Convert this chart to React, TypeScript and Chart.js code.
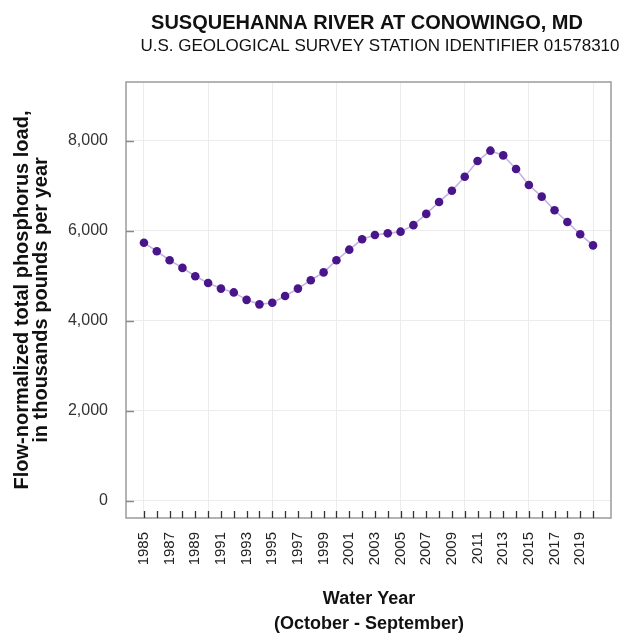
import React, { useEffect, useRef } from "react";
import { Chart, registerables } from "chart.js";

Chart.register(...registerables);

const years = [
  1985, 1986, 1987, 1988, 1989, 1990, 1991, 1992, 1993, 1994, 1995, 1996,
  1997, 1998, 1999, 2000, 2001, 2002, 2003, 2004, 2005, 2006, 2007, 2008,
  2009, 2010, 2011, 2012, 2013, 2014, 2015, 2016, 2017, 2018, 2019, 2020,
];
const loads = [
  5740, 5550, 5350, 5180, 4995, 4845, 4720, 4635, 4470, 4370, 4405, 4555,
  4720, 4905, 5080, 5350, 5585, 5815, 5910, 5948, 5985, 6130, 6380, 6645,
  6895, 7205, 7555, 7785, 7680, 7378, 7022, 6763, 6460, 6200, 5926, 5681,
];
const yTickValues = [0, 2000, 4000, 6000, 8000];
const xLabelYears = [
  1985, 1987, 1989, 1991, 1993, 1995, 1997, 1999, 2001, 2003, 2005, 2007,
  2009, 2011, 2013, 2015, 2017, 2019,
];
const xGridYears = [1985, 1990, 1995, 2000, 2005, 2010, 2015, 2020];

const TITLE = "SUSQUEHANNA RIVER AT CONOWINGO, MD";
const SUBTITLE = "U.S. GEOLOGICAL SURVEY STATION IDENTIFIER 01578310";
const Y_TITLE = ["Flow-normalized total phosphorus load,", "in thousands pounds per year"];
const X_TITLE = ["Water Year", "(October - September)"];

const FONT = "'Liberation Sans', Arial, sans-serif";

const decorPlugin = {
  id: "decor",
  beforeDatasetsDraw(chart: any) {
    const { ctx, chartArea: a, scales } = chart;
    ctx.save();
    ctx.strokeStyle = "#9a9a9a";
    ctx.lineWidth = 1.5;
    ctx.strokeRect(a.left, a.top, a.right - a.left, a.bottom - a.top);
    ctx.strokeStyle = "#333";
    ctx.lineWidth = 1.3;
    years.forEach((yr) => {
      const x = Math.round(scales.x.getPixelForValue(yr)) + 0.5;
      ctx.beginPath();
      ctx.moveTo(x, a.bottom);
      ctx.lineTo(x, a.bottom - 7);
      ctx.stroke();
    });
    ctx.strokeStyle = "#8a8a8a";
    ctx.lineWidth = 1.5;
    yTickValues.forEach((v) => {
      const y = Math.round(scales.y.getPixelForValue(v)) + 0.5;
      ctx.beginPath();
      ctx.moveTo(a.left, y);
      ctx.lineTo(a.left + 8, y);
      ctx.stroke();
    });
    ctx.restore();
  },
  afterDraw(chart: any) {
    const { ctx } = chart;
    ctx.save();
    ctx.fillStyle = "#111";
    ctx.textAlign = "center";
    ctx.textBaseline = "middle";
    ctx.font = `bold 20px ${FONT}`;
    ctx.fillText(TITLE, 359, 15);
    ctx.font = `17px ${FONT}`;
    ctx.fillText(SUBTITLE, 372, 38);
    ctx.font = `bold 18px ${FONT}`;
    ctx.fillText(X_TITLE[0], 361, 591);
    ctx.fillText(X_TITLE[1], 361, 616);
    ctx.font = `bold 20px ${FONT}`;
    ctx.save();
    ctx.translate(14, 292);
    ctx.rotate(-Math.PI / 2);
    ctx.fillText(Y_TITLE[0], 0, 0);
    ctx.restore();
    ctx.save();
    ctx.translate(33, 292);
    ctx.rotate(-Math.PI / 2);
    ctx.fillText(Y_TITLE[1], 0, 0);
    ctx.restore();
    ctx.restore();
  },
};

export default function App() {
  const ref = useRef<HTMLCanvasElement | null>(null);
  useEffect(() => {
    document.body.style.overflow = "hidden";
    document.documentElement.style.overflow = "hidden";
    if (!ref.current) return;
    const chart = new Chart(ref.current, {
      type: "line",
      data: {
        datasets: [
          {
            data: years.map((yr, i) => ({ x: yr, y: loads[i] })),
            borderColor: "#c7b2e0",
            borderWidth: 1.6,
            pointBackgroundColor: "#48168a",
            pointBorderColor: "#48168a",
            pointRadius: 4.3,
            pointBorderWidth: 0,
            tension: 0,
          },
        ],
      },
      options: {
        animation: false,
        responsive: false,
        maintainAspectRatio: false,
        devicePixelRatio: 1,
        layout: { padding: { top: 74, right: 15, left: 0, bottom: 0 } },
        plugins: {
          legend: { display: false },
          title: { display: false },
          tooltip: { enabled: false },
        },
        scales: {
          x: {
            type: "linear",
            min: 1983.6,
            max: 2021.4,
            afterBuildTicks: (scale: any) => {
              scale.ticks = years.map((v) => ({ value: v }));
            },
            afterFit: (scale: any) => {
              scale.height = 117;
              scale.paddingLeft = 0;
              scale.paddingRight = 0;
            },
            border: { display: false },
            grid: {
              drawTicks: false,
              color: (c: any) =>
                c.tick && xGridYears.includes(c.tick.value) ? "#ececec" : "rgba(0,0,0,0)",
              lineWidth: 1,
            },
            ticks: {
              autoSkip: false,
              maxRotation: 90,
              minRotation: 90,
              padding: 14,
              color: "#222",
              font: { family: FONT, size: 15 },
              callback: (v: any) => (xLabelYears.includes(Number(v)) ? String(v) : ""),
            },
          },
          y: {
            type: "linear",
            min: -378,
            max: 9311,
            afterBuildTicks: (scale: any) => {
              scale.ticks = yTickValues.map((v) => ({ value: v }));
            },
            afterFit: (scale: any) => {
              scale.width = 118;
              scale.paddingTop = 0;
              scale.paddingBottom = 0;
            },
            border: { display: false },
            grid: { drawTicks: false, color: "#ececec", lineWidth: 1 },
            ticks: {
              padding: 18,
              color: "#333",
              font: { family: FONT, size: 16 },
              callback: (v: any) => Number(v).toLocaleString("en-US"),
            },
          },
        },
      },
      plugins: [decorPlugin],
    });
    return () => chart.destroy();
  }, []);
  return (
    <div style={{ position: "absolute", left: 8, top: 8, width: 618, height: 627 }}>
      <canvas ref={ref} width={618} height={627} style={{ display: "block", width: 618, height: 627 }} />
    </div>
  );
}
